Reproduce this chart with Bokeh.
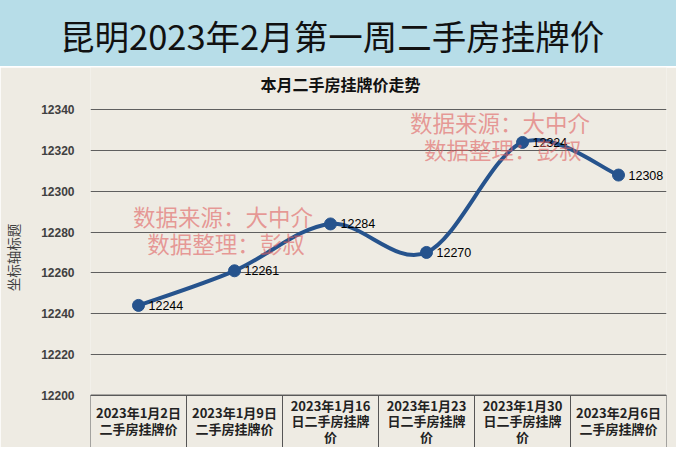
import numpy as np
from bokeh.plotting import figure
from bokeh.layouts import column
from bokeh.models import Range1d, FixedTicker, Label, Div
from bokeh.core.properties import value
from bokeh.embed import file_html
from bokeh.resources import INLINE

# ---------------- data ----------------
banner_title = "昆明2023年2月第一周二手房挂牌价"
chart_title = "本月二手房挂牌价走势"
y_axis_title = "坐标轴标题"
categories = [
    "2023年1月2日\n二手房挂牌价",
    "2023年1月9日\n二手房挂牌价",
    "2023年1月16\n日二手房挂牌\n价",
    "2023年1月23\n日二手房挂牌\n价",
    "2023年1月30\n日二手房挂牌\n价",
    "2023年2月6日\n二手房挂牌价",
]
prices = [12244, 12261, 12284, 12270, 12324, 12308]
y_ticks = [12200, 12220, 12240, 12260, 12280, 12300, 12320, 12340]
watermark_lines = ["数据来源：大中介", "数据整理：彭叔"]

# ---------------- style ----------------
W = 676
BANNER_H = 66
MAIN_H = 380
BANNER_BG = "#B7DDE8"
CHART_BG = "#EEEBE3"
BLUE = "#26538D"
GRID = "#5f5f5f"
WM_COLOR = "#E06060"
CJK = "Noto Sans CJK SC"
PX_PER_UNIT = 2.037
Y1 = 12360.8
Y0 = Y1 - MAIN_H / PX_PER_UNIT

# ---------------- banner ----------------
banner = Div(text=banner_title, width=W, height=BANNER_H, margin=(0, 0, 0, 0),
             styles={"background-color": BANNER_BG, "font-family": CJK,
                     "font-size": "34.5px", "color": "#111111", "text-align": "left",
                     "text-indent": "60px", "line-height": "70px", "overflow": "hidden",
                     "white-space": "nowrap", "margin": "0px", "padding": "0px"})

# ---------------- main chart ----------------
xs = np.arange(len(prices), dtype=float)
ys = np.array(prices, dtype=float)

p = figure(width=W, height=MAIN_H, x_range=Range1d(-0.5, len(prices) - 0.5),
           y_range=Range1d(Y0, Y1), toolbar_location=None,
           output_backend="svg", x_axis_location=None,
           min_border_left=87, min_border_right=10, min_border_top=0, min_border_bottom=0)
p.background_fill_color = CHART_BG
p.border_fill_color = CHART_BG
p.outline_line_color = None
p.xgrid.visible = False
p.ygrid.ticker = FixedTicker(ticks=y_ticks)
p.ygrid.grid_line_color = GRID
p.ygrid.grid_line_width = 1

ax = p.yaxis[0]
ax.ticker = FixedTicker(ticks=y_ticks)
ax.axis_line_color = None
ax.major_tick_line_color = None
ax.minor_tick_line_color = None
ax.major_label_standoff = 10
ax.major_label_text_font = "Liberation Sans"
ax.major_label_text_font_style = "bold"
ax.major_label_text_font_size = "12px"
ax.major_label_text_color = "#404040"
ax.axis_label = y_axis_title
ax.axis_label_standoff = 15
ax.axis_label_text_font = CJK
ax.axis_label_text_font_style = "normal"
ax.axis_label_text_font_size = "13.5px"
ax.axis_label_text_color = "#404040"

# table below the plot
p.quad(left=xs - 0.5, right=xs + 0.5, top=y_ticks[0], bottom=Y0 - 5,
       fill_color=None, line_color="#555555", line_width=1)
TABLE_CENTER = 12187.5
LINE_PX = 15.5
tx, ty, tt = [], [], []
for i, cat in enumerate(categories):
    lines = cat.split("\n")
    k = len(lines)
    for j, ln in enumerate(lines):
        tx.append(xs[i])
        ty.append(TABLE_CENTER - (j - (k - 1) / 2) * LINE_PX / PX_PER_UNIT)
        tt.append(ln)
p.text(x=tx, y=ty, text=tt, text_align="center", text_baseline="middle",
       text_font=value(CJK), text_font_style="bold", text_font_size="13px",
       text_color="#222222")

# smoothed line (Catmull-Rom -> cubic Bezier, like Excel's smoothed line)
px = np.concatenate([[xs[0]], xs, [xs[-1]]])
py = np.concatenate([[ys[0]], ys, [ys[-1]]])
n = len(xs)
cx0 = px[1:n] + (px[2:n + 1] - px[0:n - 1]) / 6
cy0 = py[1:n] + (py[2:n + 1] - py[0:n - 1]) / 6
cx1 = px[2:n + 1] - (px[3:n + 2] - px[1:n]) / 6
cy1 = py[2:n + 1] - (py[3:n + 2] - py[1:n]) / 6
p.bezier(x0=xs[:-1], y0=ys[:-1], x1=xs[1:], y1=ys[1:], cx0=cx0, cy0=cy0,
         cx1=cx1, cy1=cy1, line_color=BLUE, line_width=4, line_cap="round")
p.scatter(xs, ys, size=12, color=BLUE)
p.text(x=xs, y=ys, text=[str(v) for v in prices], x_offset=10, text_baseline="middle",
       text_font=value("Liberation Sans"), text_font_size="12.5px", text_color="#000000")

# chart title
p.add_layout(Label(x=2.105, y=12352.9, text=chart_title, text_align="center",
                   text_baseline="middle", text_font=CJK, text_font_style="bold",
                   text_font_size="16px", text_color="#111111"))

# watermarks
for (wx, wy) in [(0.881, 12288.0), (3.765, 12334.0)]:
    p.text(x=[wx, wx + 0.03], y=[wy, wy - 13.3], text=watermark_lines, text_align="center",
           text_baseline="middle", text_font=value(CJK), text_font_size="22.5px",
           text_color=WM_COLOR, text_alpha=0.6)

layout = column(banner, p, spacing=1)
open("out.html", "w").write(file_html(layout, INLINE))
